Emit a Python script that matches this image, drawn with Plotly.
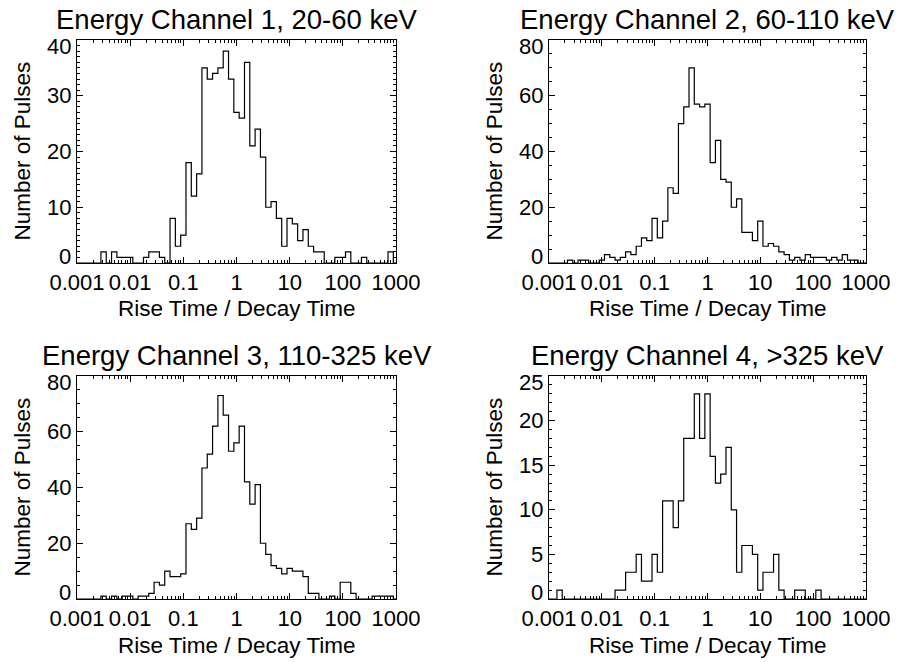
import plotly.graph_objects as go

# ---- data -------------------------------------------------------------
# histogram bins: log10(rise/decay) from -3.0 to 3.0 in steps of 0.1 (61 points)
BIN_LOG_START = -3.0
BIN_LOG_STEP = 0.1
N_BINS = 61

ch1_counts = [0, 0, 0, 0, 0, 2, 0, 2, 1, 1,
              1, 0, 0, 1, 2, 2, 1, 0, 8, 3,
              5, 18, 12, 16, 35, 33, 34, 35, 38, 33,
              27, 26, 36, 21, 24, 19, 10, 11, 8, 3,
              8, 7, 4, 6, 3, 2, 2, 0, 0, 1,
              1, 2, 0, 0, 1, 0, 0, 0, 0, 2,
              0]
ch2_counts = [0, 0, 0, 0, 1, 0, 1, 1, 0, 0,
              1, 3, 2, 1, 2, 4, 3, 6, 9, 8,
              16, 9, 15, 27, 25, 50, 56, 70, 57, 56,
              57, 36, 44, 30, 29, 20, 23, 11, 11, 8,
              15, 6, 7, 6, 4, 3, 1, 2, 1, 3,
              2, 2, 2, 1, 2, 1, 3, 1, 1, 0,
              0]
ch3_counts = [0, 0, 0, 0, 0, 1, 0, 1, 0, 1,
              1, 0, 1, 1, 2, 6, 5, 10, 8, 8,
              9, 27, 25, 29, 47, 52, 62, 73, 66, 53,
              56, 62, 42, 34, 41, 20, 16, 12, 11, 9,
              11, 10, 10, 8, 2, 2, 0, 0, 1, 0,
              6, 6, 2, 0, 0, 0, 1, 1, 1, 1,
              0]
ch4_counts = [0, 0, 1, 0, 0, 0, 0, 0, 0, 0,
              0, 0, 0, 1, 1, 3, 3, 5, 2, 2,
              5, 3, 11, 11, 8, 11, 18, 18, 23, 18,
              23, 16, 13, 14, 17, 10, 3, 6, 6, 5,
              1, 3, 3, 5, 1, 0, 0, 1, 1, 0,
              0, 1, 0, 0, 0, 0, 0, 0, 0, 0,
              0]

titles = ["Energy Channel 1, 20-60 keV", "Energy Channel 2, 60-110 keV",
          "Energy Channel 3, 110-325 keV", "Energy Channel 4, >325 keV"]
x_tick_vals = [0.001, 0.01, 0.1, 1, 10, 100, 1000]
x_tick_text = ["0.001", "0.01", "0.1", "1", "10", "100", "1000"]
y_ranges = [40, 80, 80, 25]
y_major = [10, 20, 20, 5]
y_minor = [1, 5, 5, 1]
x_title = "Rise Time / Decay Time"
y_title = "Number of Pulses"

# ---- figure -------------------------------------------------------------
W, H = 900, 662
FONT = "Liberation Sans, Arial, Helvetica, sans-serif"
TICK_SIZE = 22
LABEL_SIZE = 22.5
TITLE_SIZE = 27.5

bin_x = [10 ** (BIN_LOG_START + BIN_LOG_STEP * i) for i in range(N_BINS)]
minor_x = [m * 10 ** e for e in range(-3, 3) for m in range(2, 10)]

# panel boxes in pixels: (left, right, top, bottom)
boxes = [(77, 396, 40, 263), (549, 866, 40, 263),
         (77, 396, 376, 599), (549, 866, 376, 599)]
counts = [ch1_counts, ch2_counts, ch3_counts, ch4_counts]

fig = go.Figure()
annotations = []
for k in range(4):
    L, R, T, B = boxes[k]
    sfx = "" if k == 0 else str(k + 1)
    xa, ya = "x" + sfx, "y" + sfx
    fig.add_trace(go.Scatter(
        x=bin_x, y=counts[k], mode="lines", line_shape="hvh",
        line=dict(color="black", width=1.2),
        xaxis=xa, yaxis=ya, showlegend=False, hoverinfo="skip"))
    common = dict(showline=True, linecolor="black", linewidth=1, mirror="allticks",
                  ticks="inside", ticklen=6, tickwidth=1, tickcolor="black",
                  showgrid=False, zeroline=False, automargin=False,
                  tickfont=dict(family=FONT, size=TICK_SIZE, color="black"))
    fig.layout["xaxis" + sfx] = dict(
        common, type="log", range=[-3, 3], domain=[L / W, R / W],
        anchor=ya, tickmode="array", tickvals=x_tick_vals, ticktext=x_tick_text,
        tickangle=0,
        minor=dict(tickmode="array", tickvals=minor_x, ticks="inside", ticklen=3,
                   tickcolor="black", showgrid=False))
    fig.layout["yaxis" + sfx] = dict(
        common, range=[0, y_ranges[k]], domain=[1 - B / H, 1 - T / H],
        anchor=xa, tickmode="linear", tick0=0, dtick=y_major[k],
        showticklabels=False,
        minor=dict(tickmode="linear", tick0=0, dtick=y_minor[k], ticks="inside",
                   ticklen=3, tickcolor="black", showgrid=False))
    # y tick labels (end labels kept inside the frame, as in the original)
    yv = list(range(0, y_ranges[k] + 1, y_major[k]))
    for v in yv:
        shift = 0
        if v == yv[0]:
            shift = 7
        elif v == yv[-1]:
            shift = -6
        annotations.append(dict(text=str(v), x=0, y=v, xref=xa + " domain", yref=ya,
                                xanchor="right", yanchor="middle", xshift=-4, yshift=shift,
                                showarrow=False,
                                font=dict(family=FONT, size=TICK_SIZE, color="black")))
    cx = (L + R) / 2
    annotations.append(dict(text=titles[k], x=cx / W, y=1 - (T - 21) / H,
                            xref="paper", yref="paper", showarrow=False,
                            xanchor="center", yanchor="middle",
                            font=dict(family=FONT, size=TITLE_SIZE, color="black")))
    annotations.append(dict(text=x_title, x=cx / W, y=1 - (B + 46) / H,
                            xref="paper", yref="paper", showarrow=False,
                            xanchor="center", yanchor="middle",
                            font=dict(family=FONT, size=LABEL_SIZE, color="black")))
    annotations.append(dict(text=y_title, x=(L - 55) / W, y=1 - ((T + B) / 2) / H,
                            xref="paper", yref="paper", showarrow=False, textangle=-90,
                            xanchor="center", yanchor="middle",
                            font=dict(family=FONT, size=LABEL_SIZE, color="black")))

fig.update_layout(width=W, height=H, margin=dict(l=0, r=0, t=0, b=0),
                  paper_bgcolor="white", plot_bgcolor="white",
                  annotations=annotations, showlegend=False)
fig.write_html("out.html")
